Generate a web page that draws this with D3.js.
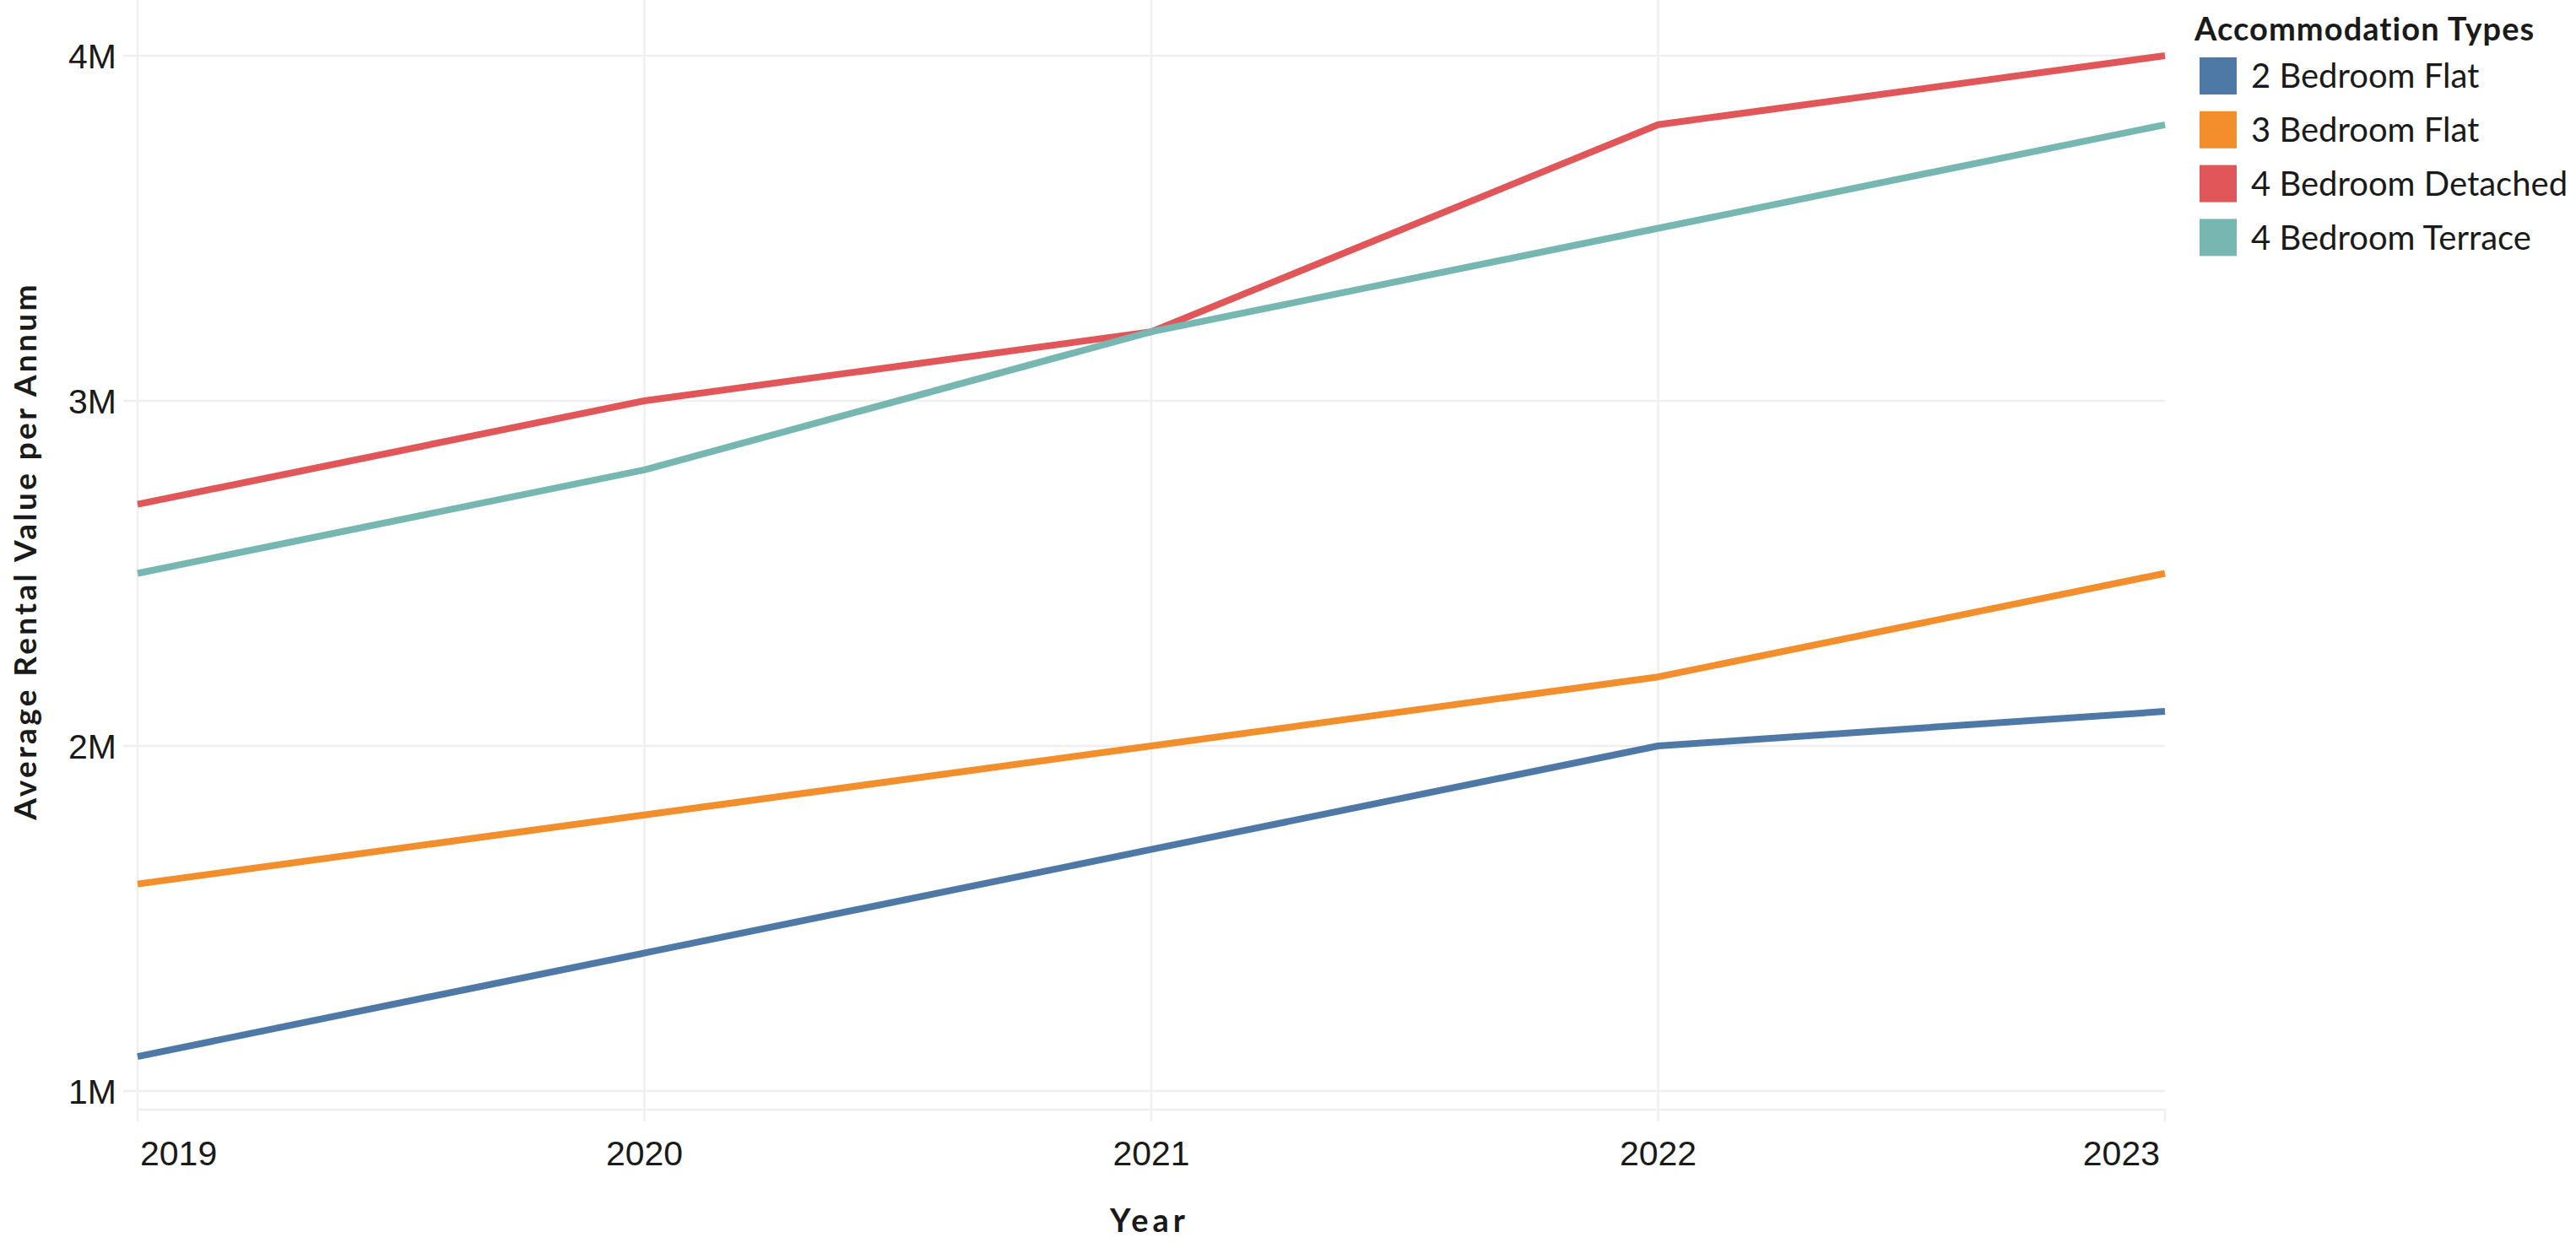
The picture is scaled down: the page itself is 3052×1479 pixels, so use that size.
<!DOCTYPE html>
<html><head><meta charset="utf-8">
<script src="https://cdn.jsdelivr.net/npm/d3@7"></script>
<style>html,body{margin:0;padding:0;background:#fff;}svg{display:block;}</style>
</head><body>
<svg id="chart" width="3052" height="1479"></svg>
<script>
const years = [2019, 2020, 2021, 2022, 2023];
const seriesNames = ["2 Bedroom Flat", "3 Bedroom Flat", "4 Bedroom Detached", "4 Bedroom Terrace"];
const flat2 = [1100000, 1400000, 1700000, 2000000, 2100000];
const flat3 = [1600000, 1800000, 2000000, 2200000, 2500000];
const detached4 = [2700000, 3000000, 3200000, 3800000, 4000000];
const terrace4 = [2500000, 2800000, 3200000, 3500000, 3800000];
const yTicks = [1000000, 2000000, 3000000, 4000000];
const colors = ["#4e79a7", "#f28e2b", "#e15759", "#76b7b2"];
const seriesValues = [flat2, flat3, detached4, terrace4];

(function () {
const svg = d3.select("#chart");
const pLeft = 163, pRight = 2565, pTop = 0, pBottom = 1315;
const x = d3.scaleLinear().domain([2019, 2023]).range([pLeft, pRight]);
const y = d3.scaleLinear().domain([1000000, 4000000]).range([1293, 66]);

// stretch a text element to a target width using letter spacing
function fitWidth(sel, target) {
  const n = sel.node();
  const w = n.getComputedTextLength();
  const len = sel.text().length;
  if (w > 0 && len > 1) sel.attr("letter-spacing", ((target - w) / (len - 1)).toFixed(2));
}

const grid = svg.append("g");
grid.selectAll("line.h").data(yTicks).join("line")
  .attr("x1", 146).attr("x2", pRight).attr("y1", d => y(d)).attr("y2", d => y(d))
  .attr("stroke", "#efefef").attr("stroke-width", 2.5);
grid.selectAll("line.v").data(years.slice(0, 4)).join("line")
  .attr("x1", d => x(d)).attr("x2", d => x(d)).attr("y1", pTop).attr("y2", 1329)
  .attr("stroke", "#efefef").attr("stroke-width", 2.5);
grid.append("line").attr("x1", x(2023)).attr("x2", x(2023)).attr("y1", pBottom).attr("y2", 1329)
  .attr("stroke", "#efefef").attr("stroke-width", 2.5);
grid.append("line").attr("x1", pLeft).attr("x2", pRight + 2).attr("y1", pBottom).attr("y2", pBottom)
  .attr("stroke", "#efefef").attr("stroke-width", 2.5);

const fmt = d => (d / 1e6) + "M";
svg.append("g").selectAll("text").data(yTicks).join("text")
  .attr("x", 138).attr("y", d => y(d)).attr("dy", "0.36em")
  .attr("text-anchor", "end")
  .attr("font-family", "Liberation Sans, Arial, sans-serif").attr("font-size", 41)
  .attr("fill", "#1a1a1a").text(fmt);

svg.append("g").selectAll("text").data(years).join("text")
  .attr("x", (d, i) => i === 0 ? x(d) + 3 : (i === years.length - 1 ? x(d) - 6 : x(d)))
  .attr("y", 1381)
  .attr("text-anchor", (d, i) => i === 0 ? "start" : (i === years.length - 1 ? "end" : "middle"))
  .attr("font-family", "Liberation Sans, Arial, sans-serif").attr("font-size", 41)
  .attr("fill", "#1a1a1a").text(d => d);

const line = d3.line().x((d, i) => x(years[i])).y(d => y(d));
svg.append("g").selectAll("path").data(seriesValues).join("path")
  .attr("d", line).attr("fill", "none")
  .attr("stroke", (d, i) => colors[i]).attr("stroke-width", 8)
  .attr("stroke-linejoin", "round").attr("stroke-linecap", "butt");

const yearT = svg.append("text").attr("x", 1362).attr("y", 1460)
  .attr("text-anchor", "middle").attr("font-family", "Lato, sans-serif").attr("font-weight", "bold")
  .attr("font-size", 38).attr("fill", "#1a1a1a").text("Year");
fitWidth(yearT, 89);
const yT = svg.append("text").attr("transform", "translate(43,653) rotate(-90)")
  .attr("text-anchor", "middle").attr("font-family", "Lato, sans-serif").attr("font-weight", "bold")
  .attr("font-size", 37).attr("fill", "#1a1a1a").text("Average Rental Value per Annum");
fitWidth(yT, 634);

const lg = svg.append("g");
const lt = lg.append("text").attr("x", 2600).attr("y", 48)
  .attr("font-family", "Lato, sans-serif").attr("font-weight", "bold")
  .attr("font-size", 38).attr("fill", "#1a1a1a").text("Accommodation Types");
fitWidth(lt, 403);
const rows = lg.selectAll("g.row").data(seriesNames).join("g")
  .attr("transform", (d, i) => `translate(2606,${68 + i * 63.8})`);
rows.append("rect").attr("width", 44).attr("height", 44).attr("fill", (d, i) => colors[i]);
rows.append("text").attr("x", 61).attr("y", 22).attr("dy", "0.36em")
  .attr("font-family", "Lato, sans-serif").attr("font-size", 40).attr("fill", "#1a1a1a").text(d => d);
})();
</script>
</body></html>
